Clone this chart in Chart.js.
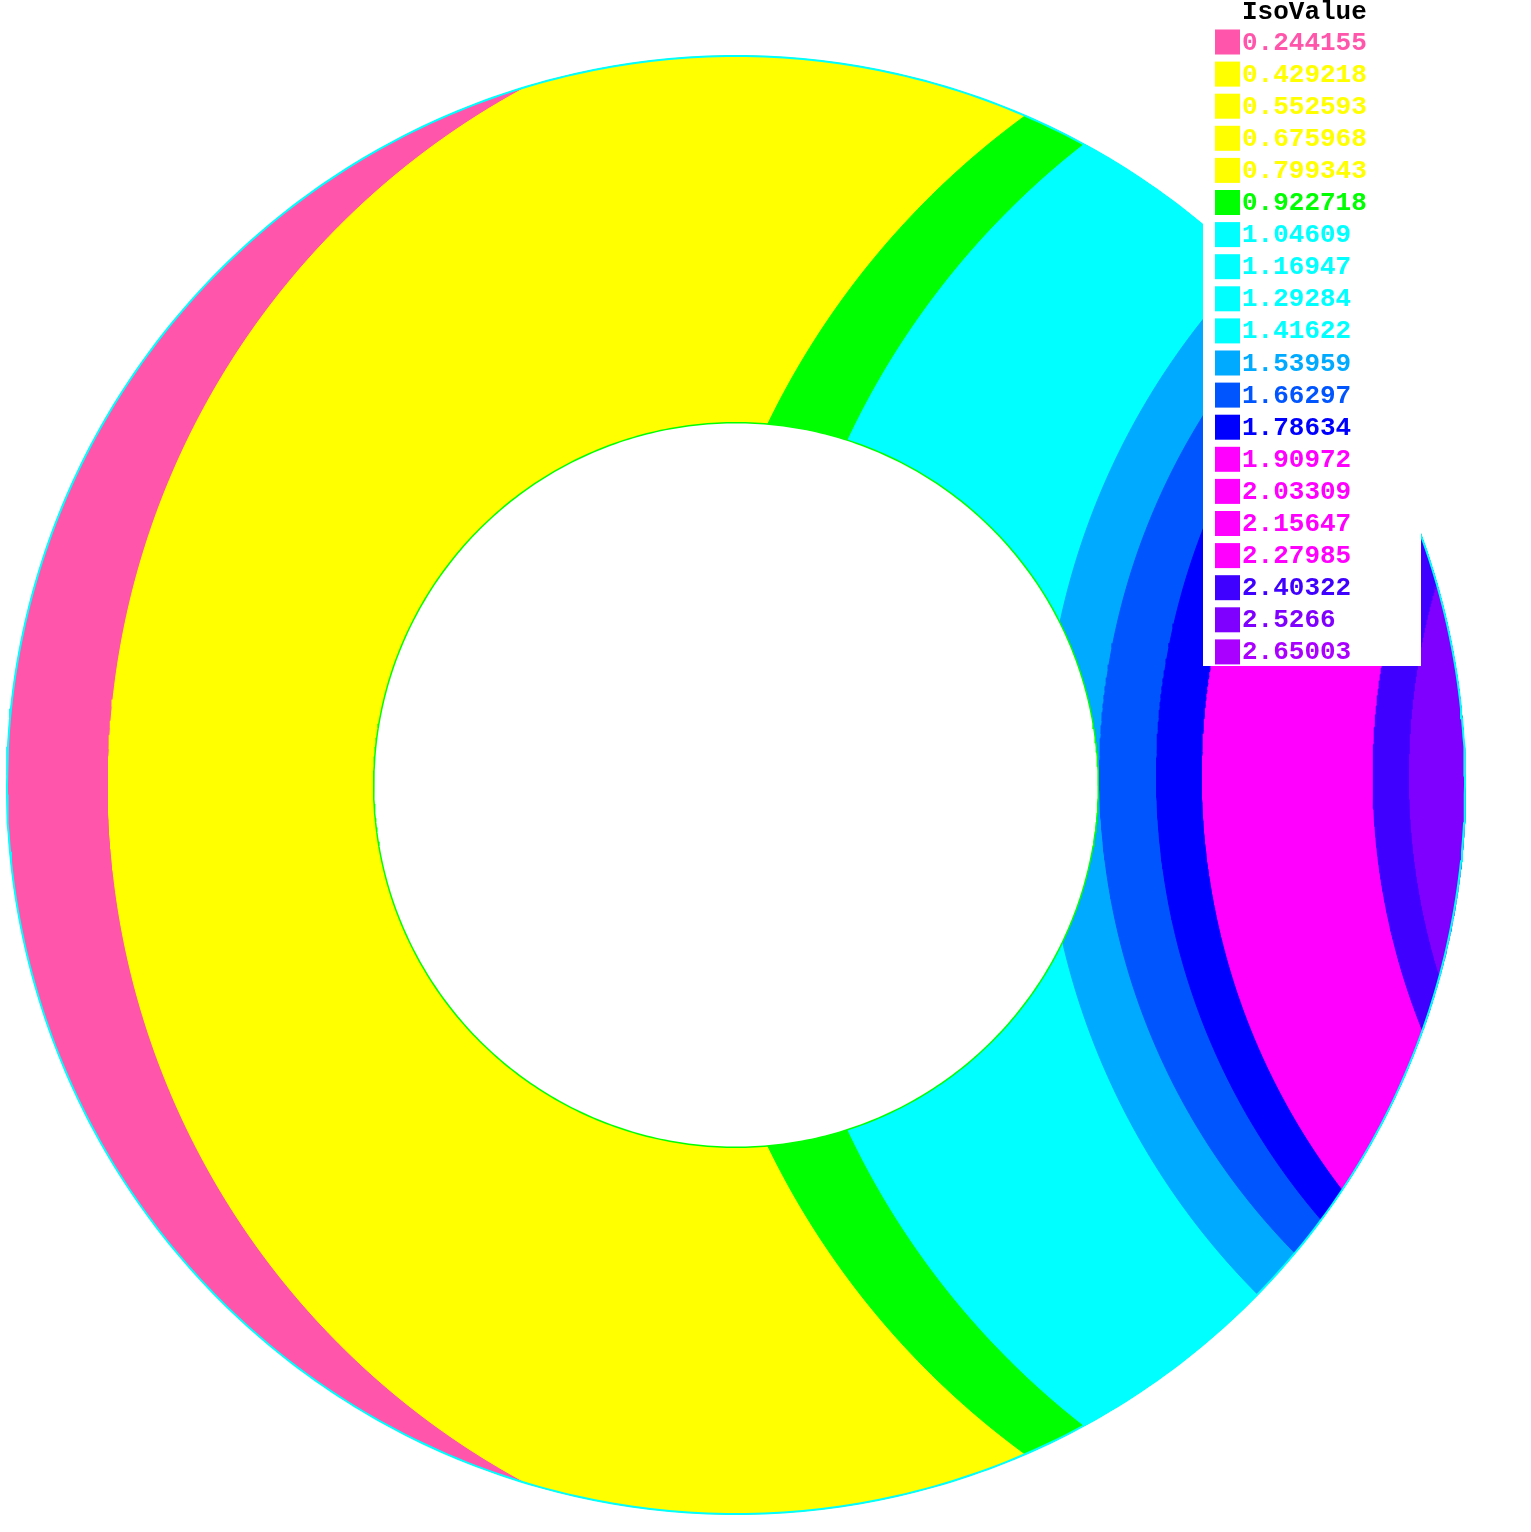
<!DOCTYPE html>
<html>
<head>
<meta charset="utf-8">
<title>IsoValue</title>
<script src="https://cdn.jsdelivr.net/npm/chart.js@4.4.1/dist/chart.umd.min.js"></script>
<style>
    html, body { margin: 0; padding: 0; background: #ffffff; }
    #wrap { width: 1531px; height: 1532px; position: relative; }
</style>
</head>
<body>
<div id="wrap"><canvas id="iso-chart"></canvas></div>
<script>
// --- Data ---

// IsoValue legend
const isoLevels = [0.244155, 0.429218, 0.552593, 0.675968, 0.799343, 0.922718,
    1.04609, 1.16947, 1.29284, 1.41622, 1.53959, 1.66297, 1.78634,
    1.90972, 2.03309, 2.15647, 2.27985, 2.40322, 2.5266, 2.65003];
const levelColors = ['#ff55aa', '#ffff00', '#ffff00', '#ffff00', '#ffff00', '#00ff00',
    '#00ffff', '#00ffff', '#00ffff', '#00ffff', '#00aaff', '#0055ff', '#0000ff',
    '#ff00ff', '#ff00ff', '#ff00ff', '#ff00ff', '#3f00ff', '#7f00ff', '#aa00ff'];

// Domain: annulus (outer radius 1)
const outerRadius = 1;
const innerRadius = 0.497;

// Visible iso-lines, each approximated by a circle (centre x, centre y, radius)
const isoLineLevels = [0.429218, 0.922718, 1.04609, 1.53959, 1.66297, 1.78634, 1.90972, 2.40322, 2.5266];
const isoLineCx = [0.225, 1.066, 1.162, 1.429, 1.432, 1.510, 1.573, 1.807, 1.857];
const isoLineCy = [0.000, 0.000, 0.000, 0.012, 0.012, 0.012, 0.012, 0.012, 0.012];
const isoLineR  = [1.086, 1.136, 1.114, 1.007, 0.933, 0.933, 0.933, 0.933, 0.933];

// --- Geometry helpers ---
const N = 240;

const circlePoints = (cx, cy, r, a0, a1, n) => {
    const pts = [];
    for (let i = 0; i <= n; i++) {
        const a = a0 + (a1 - a0) * i / n;
        pts.push({ x: cx + r * Math.cos(a), y: cy + r * Math.sin(a) });
    }
    return pts;
};

// region of the outer disk lying inside the iso-line circle
const lensPoints = (cx, cy, r) => {
    const R = outerRadius;
    const d = Math.hypot(cx, cy);
    const a = (R * R - r * r + d * d) / (2 * d);
    const h = Math.sqrt(R * R - a * a);
    const ux = cx / d, uy = cy / d;
    const p1 = { x: a * ux - h * uy, y: a * uy + h * ux };
    const p2 = { x: a * ux + h * uy, y: a * uy - h * ux };
    let f1 = Math.atan2(p1.y, p1.x);
    const f2 = Math.atan2(p2.y, p2.x);
    if (f1 < f2) f1 += 2 * Math.PI;
    const t1 = Math.atan2(p1.y - cy, p1.x - cx);
    let t2 = Math.atan2(p2.y - cy, p2.x - cx);
    if (t2 < t1) t2 += 2 * Math.PI;
    return circlePoints(0, 0, R, f2, f1, N).concat(circlePoints(cx, cy, r, t1, t2, N));
};

const colorFor = level => levelColors[isoLevels.indexOf(level)];

const polygon = (label, points, color) => ({
    label: label,
    data: points,
    backgroundColor: color,
    borderColor: color,
    borderWidth: 1,
    fill: 'shape',
    pointRadius: 0,
    tension: 0
});

// bottom to top
const layers = [];
layers.push(polygon('base', circlePoints(0, 0, outerRadius, 0, 2 * Math.PI, 2 * N), levelColors[0]));
isoLineLevels.forEach((lvl, i) => {
    layers.push(polygon(String(lvl), lensPoints(isoLineCx[i], isoLineCy[i], isoLineR[i]), colorFor(lvl)));
});
const hole = polygon('hole', circlePoints(0, 0, innerRadius, 0, 2 * Math.PI, 2 * N), '#ffffff');
hole.borderColor = '#00ff00';
hole.borderWidth = 1.5;
layers.push(hole);
layers.push({
    label: 'border',
    data: circlePoints(0, 0, outerRadius, 0, 2 * Math.PI, 2 * N),
    borderColor: '#00ffff',
    borderWidth: 2,
    fill: false,
    pointRadius: 0
});
layers.forEach((ds, i) => { ds.order = layers.length - i; });

// --- IsoValue legend box ---
const isoLegend = {
    id: 'isoLegend',
    afterDraw(chart) {
        const ctx = chart.ctx;
        ctx.save();
        ctx.fillStyle = '#ffffff';
        ctx.fillRect(1203, 0, 218, 666);

        ctx.textBaseline = 'middle';
        ctx.textAlign = 'left';
        ctx.font = 'bold 26px "Liberation Mono", "DejaVu Sans Mono", monospace';
        ctx.fillStyle = '#000000';
        ctx.fillText('IsoValue', 1242, 12);

        const step = 32.1;
        isoLevels.forEach((v, i) => {
            const y = 42 + i * step;
            ctx.fillStyle = levelColors[i];
            ctx.fillRect(1215, y - 12.5, 25, 25);
            ctx.fillText(String(v), 1242, y + 1);
        });
        ctx.restore();
    }
};

new Chart(document.getElementById('iso-chart'), {
    type: 'line',
    data: { datasets: layers },
    options: {
        responsive: true,
        maintainAspectRatio: false,
        animation: false,
        events: [],
        layout: { padding: 0 },
        plugins: {
            legend: { display: false },
            tooltip: { enabled: false }
        },
        scales: {
            x: { type: 'linear', min: -1.0096, max: 1.0905, display: false },
            y: { type: 'linear', min: -1.0247, max: 1.0768, display: false }
        }
    },
    plugins: [isoLegend]
});
</script>
</body>
</html>
